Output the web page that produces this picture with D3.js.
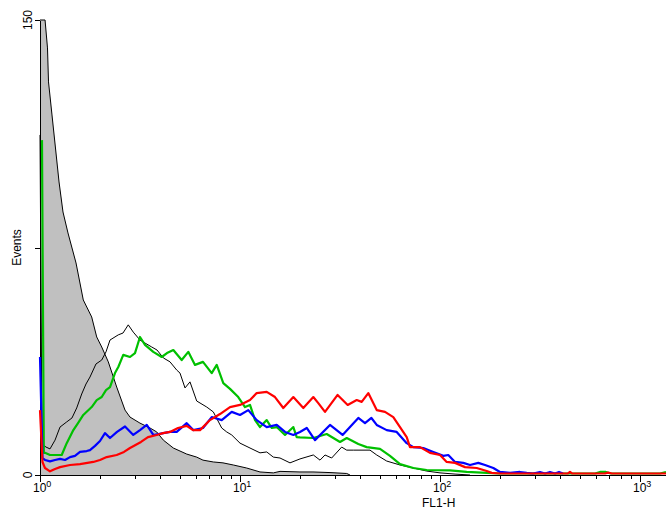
<!DOCTYPE html>
<html>
<head>
<meta charset="utf-8">
<script src="https://cdn.jsdelivr.net/npm/d3@7"></script>
<style>
  html, body { margin: 0; padding: 0; background: #fff; }
  svg { display: block; font-family: "Liberation Sans", Arial, sans-serif; }
</style>
</head>
<body>
<svg id="chart"></svg>
<script>
const WIDTH = 666;
const HEIGHT = 512;

const MARGINS = {
  left: 40,
  top: 20,
  bottom: 37,
};

// axis ticks
const majorTicks = [1, 10, 100, 1000];
const majorExponents = ["0", "1", "2", "3"];
const minorTicks = [
  2, 3, 4, 5, 6, 7, 8, 9,
  20, 30, 40, 50, 60, 70, 80, 90,
  200, 300, 400, 500, 600, 700, 800, 900,
];
const yTicks = [0, 75, 150];
const yLabelled = [0, 150];

// histograms, [FL1-H, events]
const isotypeFilled = [
  [1.0, 168], [1.06, 152], [1.09, 140.8], [1.103, 129.6], [1.148, 118.7],
  [1.195, 107.8], [1.245, 96.6], [1.303, 86.7], [1.38, 79.8], [1.514, 69.9],
  [1.646, 57.7], [1.813, 52.1], [1.921, 45.5], [2.035, 42.2], [2.195, 37.3],
  [2.418, 29.0], [2.661, 21.4], [2.818, 19.1], [3.162, 17.1], [3.548, 15.5],
  [3.833, 14.2], [4.137, 11.5], [4.641, 8.9], [5.414, 6.9], [6.074, 5.9],
  [6.53, 4.9], [7.355, 4.3], [8.22, 4.0], [9.26, 3.3], [10.8, 2.3],
  [12.59, 1.0], [14.68, 0.7], [15.85, 1.2], [19.95, 1.0], [23.17, 1.0],
  [28.18, 0.8], [34.17, 0.5], [35.48, 0],
];

const controlLine = [
  [1.0, 112.1], [1.023, 10.2], [1.072, 9.2], [1.122, 8.6], [1.189, 11.5],
  [1.259, 15.8], [1.36, 17.5], [1.445, 18.8], [1.526, 22.1], [1.616, 26.7],
  [1.698, 30.0], [1.778, 32.3], [1.905, 36.6], [2.035, 37.9], [2.138, 40.6],
  [2.239, 44.5], [2.463, 46.2], [2.6, 46.8], [2.762, 49.5], [2.927, 47.1],
  [3.162, 44.5], [3.35, 43.5], [3.619, 42.2], [3.846, 41.2], [4.137, 38.6],
  [4.467, 37.3], [4.826, 34.6], [5.012, 33.6], [5.309, 28.7], [5.623, 30.7],
  [6.074, 24.4], [6.82, 22.4], [7.355, 20.8], [8.1, 15.5], [8.58, 14.2],
  [9.09, 13.2], [10.0, 10.5], [11.22, 8.9], [12.59, 7.3], [13.6, 7.6],
  [14.68, 5.9], [15.85, 5.6], [17.78, 4.0], [19.95, 5.3], [23.26, 6.6],
  [25.12, 4.9], [26.61, 6.6], [28.73, 5.6], [32.24, 9.2], [34.17, 8.2],
  [36.85, 8.2], [44.67, 8.2], [48.26, 6.6], [54.14, 4.6], [63.1, 3.3],
  [73.55, 2.3], [85.82, 1.3], [100, 0.7], [118.9, 0.3], [141.3, 0],
];

const greenTrace = [
  [1.023, 110.4], [1.045, 7.3], [1.059, 7.3], [1.122, 6.6], [1.189, 6.6],
  [1.284, 6.6], [1.36, 10.5], [1.468, 14.8], [1.549, 17.1], [1.646, 19.8],
  [1.813, 22.4], [1.921, 24.7], [2.035, 25.7], [2.138, 28.0], [2.239, 29.0],
  [2.371, 33.6], [2.463, 35.6], [2.608, 39.6], [2.818, 38.9], [2.985, 40.2],
  [3.162, 45.5], [3.35, 42.9], [3.685, 40.6], [4.06, 38.9], [4.315, 40.2],
  [4.641, 41.2], [5.11, 37.9], [5.514, 40.6], [5.957, 36.3], [6.53, 37.3],
  [7.22, 33.6], [7.65, 36.3], [8.25, 30.3], [8.913, 28.4], [9.8, 25.7],
  [10.59, 22.4], [11.22, 23.1], [11.89, 18.1], [12.59, 15.8], [13.6, 18.1],
  [14.41, 15.5], [15.26, 15.8], [16.79, 13.2], [18.48, 15.8], [19.21, 12.5],
  [19.95, 12.4], [23.26, 12.2], [27.13, 13.5], [31.62, 10.9], [34.17, 12.2],
  [39.05, 10.2], [43.0, 9.2], [50.12, 8.6], [56.23, 6.3], [63.1, 3.6],
  [73.55, 2.3], [85.82, 1.65], [112.2, 1.5], [136, 1.0], [171.2, 0.7],
  [199.5, 0.5], [595.7, 0.5], [631, 1.0], [676, 1.0], [716, 0.5],
  [1259, 0.5], [1349, 1.0],
];

const blueTrace = [
  [1.0, 38.9], [1.029, 5.6], [1.059, 4.95], [1.122, 4.5], [1.189, 4.95],
  [1.259, 5.3], [1.334, 4.95], [1.413, 5.9], [1.496, 6.3], [1.585, 7.6],
  [1.712, 7.9], [1.778, 8.2], [1.884, 9.6], [1.995, 11.2], [2.113, 13.8],
  [2.239, 12.2], [2.427, 14.2], [2.661, 16.0], [2.927, 13.2], [3.162, 14.8],
  [3.418, 16.5], [3.685, 13.2], [4.137, 13.8], [4.467, 14.2], [4.826, 14.2],
  [5.414, 17.1], [5.84, 14.8], [6.53, 15.5], [7.22, 19.1], [8.1, 18.1],
  [9.09, 20.8], [10.0, 19.8], [11.0, 21.4], [12.12, 18.1], [13.6, 15.8],
  [15.26, 16.5], [16.79, 14.2], [18.48, 13.2], [19.95, 14.2], [21.56, 15.5],
  [23.71, 11.5], [28.18, 16.5], [32.58, 13.2], [39.05, 18.8], [42.17, 17.1],
  [45.4, 18.8], [48.26, 16.5], [54.14, 14.8], [60.74, 14.2], [68.16, 10.5],
  [73.55, 9.2], [82.51, 8.9], [92.6, 7.6], [103.9, 6.3], [110, 6.6],
  [118.9, 4.3], [130.8, 4.0], [141.3, 3.3], [155.4, 4.0], [167.9, 3.3],
  [184.8, 2.3], [199.5, 1.0], [223.9, 0.7], [251.2, 1.0], [271.4, 0.7],
  [291.7, 0.5], [316.2, 1.0], [335, 0.5], [354.8, 1.0], [375.8, 0.5],
  [393.6, 1.0], [412, 0.5],
];

const redTrace = [
  [1.0, 21.4], [1.029, 4.3], [1.059, 2.3], [1.122, 1.2], [1.189, 2.0],
  [1.259, 2.6], [1.413, 3.3], [1.585, 3.6], [1.847, 4.3], [1.995, 4.95],
  [2.155, 5.9], [2.418, 6.6], [2.63, 7.6], [2.818, 8.9], [3.199, 10.9],
  [3.467, 12.5], [3.833, 13.2], [4.121, 13.8], [4.467, 14.2], [4.898, 15.5],
  [5.414, 16.2], [5.821, 14.8], [6.31, 14.8], [7.079, 18.1], [7.943, 20.1],
  [8.913, 22.4], [10.0, 23.1], [11.22, 24.7], [12.12, 27.0], [13.6, 27.4],
  [14.96, 25.7], [16.46, 22.1], [18.48, 25.7], [20.73, 22.1], [23.26, 25.7],
  [24.63, 23.7], [26.61, 20.8], [30.76, 26.4], [34.55, 23.1], [38.33, 24.7],
  [40.6, 24.1], [43.8, 27.0], [48.26, 21.4], [53.09, 20.8], [58.41, 19.1],
  [63.1, 15.8], [68.16, 12.5], [70.79, 9.2], [79.43, 9.2], [89.13, 7.3],
  [100, 6.6], [108, 4.3], [118.9, 4.0], [133.4, 2.6], [152.6, 2.3],
  [171.2, 1.3], [181.4, 0.7], [199.5, 0.5], [436.5, 0.5], [446.7, 1.0],
  [457, 0.5], [668, 0.5], [692, 0.8], [724, 0.5], [1349, 0.5],
];

const svg = d3.select("#chart").attr("width", WIDTH).attr("height", HEIGHT);

// 10^3 sits at 640, the axis runs on to the edge of the window
const x = d3.scaleLog().domain([1, 1000]).range([MARGINS.left, 640]);
x.domain([1, x.invert(WIDTH)]).range([MARGINS.left, WIDTH]);

const y = d3
  .scaleLinear()
  .domain([0, 150])
  .range([HEIGHT - MARGINS.bottom, MARGINS.top])
  .clamp(true);

const baseY = y(0);

const line = d3
  .line()
  .x((d) => x(d[0]))
  .y((d) => y(d[1]));

const area = d3
  .area()
  .x((d) => x(d[0]))
  .y0(baseY)
  .y1((d) => y(d[1]));

// filled control histogram
svg
  .append("path")
  .attr("d", area(isotypeFilled))
  .attr("fill", "#c0c0c0")
  .attr("stroke", "none");

svg
  .append("path")
  .attr("d", line(isotypeFilled))
  .attr("fill", "none")
  .attr("stroke", "#000")
  .attr("stroke-width", 1);

// axes
svg
  .append("g")
  .attr("transform", `translate(0, ${baseY})`)
  .call(
    d3.axisBottom(x).tickValues(majorTicks).tickSize(7).tickSizeOuter(0).tickFormat("")
  );

svg
  .append("g")
  .attr("transform", `translate(0, ${baseY})`)
  .call(
    d3.axisBottom(x).tickValues(minorTicks).tickSize(4).tickSizeOuter(0).tickFormat("")
  )
  .select(".domain")
  .remove();

svg
  .append("g")
  .attr("transform", `translate(${MARGINS.left}, 0)`)
  .call(d3.axisLeft(y).tickValues(yTicks).tickSize(5).tickSizeOuter(0).tickFormat(""));

svg.selectAll(".domain, .tick line").attr("stroke", "#000").attr("shape-rendering", "crispEdges");

// histogram lines
svg
  .append("path")
  .attr("d", line(controlLine))
  .attr("fill", "none")
  .attr("stroke", "#000")
  .attr("stroke-width", 1);

const traces = [
  { data: greenTrace, color: "#00c000" },
  { data: blueTrace, color: "#0000ff" },
  { data: redTrace, color: "#ff0000" },
];

traces.forEach((t) => {
  svg
    .append("path")
    .attr("d", line(t.data))
    .attr("fill", "none")
    .attr("stroke", t.color)
    .attr("stroke-width", 2.2)
    .attr("stroke-linejoin", "round");
});

// x tick labels: 10 with a raised exponent
majorTicks.forEach((v, i) => {
  const label = svg
    .append("text")
    .attr("x", x(v) - 7)
    .attr("y", 492)
    .attr("font-size", 12)
    .attr("fill", "#000");
  label.append("tspan").text("10");
  label
    .append("tspan")
    .attr("dy", -5)
    .attr("font-size", 9)
    .text(majorExponents[i]);
});

svg
  .append("text")
  .attr("x", 422)
  .attr("y", 507)
  .attr("font-size", 12)
  .attr("fill", "#000")
  .text("FL1-H");

// y labels, rotated
yLabelled.forEach((v) => {
  svg
    .append("text")
    .attr("transform", `translate(32, ${y(v)}) rotate(-90)`)
    .attr("text-anchor", "middle")
    .attr("font-size", 12)
    .attr("fill", "#000")
    .text(v);
});

svg
  .append("text")
  .attr("transform", `translate(21, ${y(75)}) rotate(-90)`)
  .attr("text-anchor", "middle")
  .attr("font-size", 12)
  .attr("fill", "#000")
  .text("Events");
</script>
</body>
</html>
